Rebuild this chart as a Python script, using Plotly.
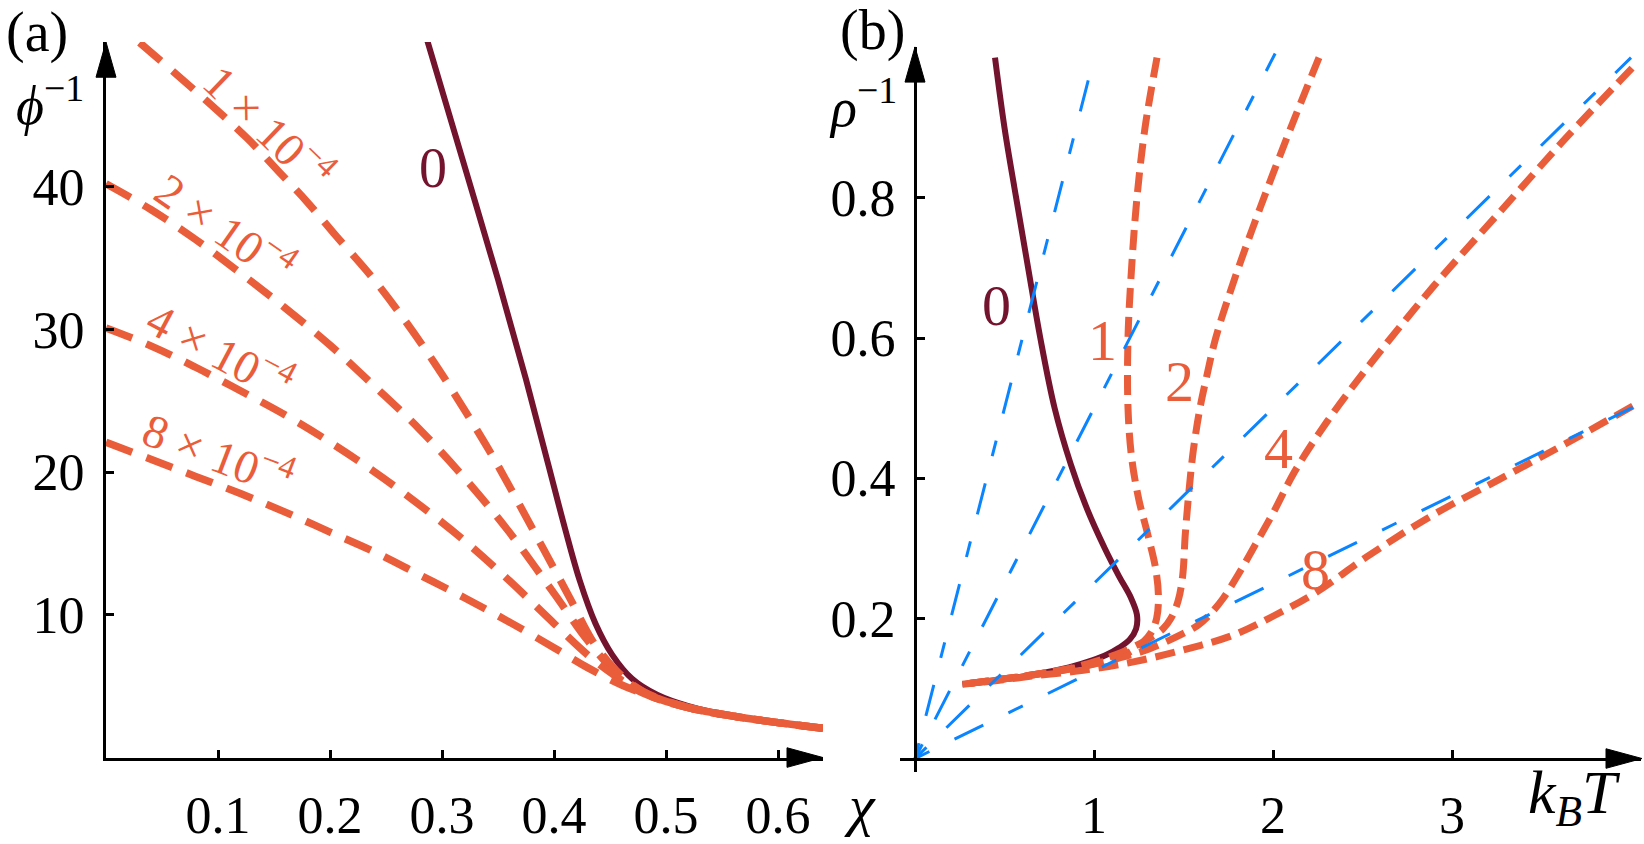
import plotly.graph_objects as go

# ---------------- data: panel (a)  chi vs 1/phi ----------------
a_labels = ["1 × 10<sup>−4</sup>", "2 × 10<sup>−4</sup>", "4 × 10<sup>−4</sup>", "8 × 10<sup>−4</sup>"]

a0_chi = [0.287, 0.318, 0.350, 0.375, 0.395, 0.410, 0.423, 0.437, 0.452, 0.470, 0.492, 0.520, 0.560, 0.600, 0.640]
a0_phi = [50.2, 42.0, 33.5, 26.5, 20.5, 16.0, 12.4, 9.4, 7.2, 5.5, 4.4, 3.6, 2.9, 2.45, 2.05]

a1_chi = [0.030, 0.090, 0.126, 0.155, 0.180, 0.206, 0.236, 0.2625, 0.292, 0.319, 0.346, 0.381, 0.414, 0.435, 0.452, 0.470, 0.490, 0.520, 0.560, 0.600, 0.640]
a1_phi = [50.1, 46.0, 43.4, 41.0, 38.9, 36.5, 33.8, 31.1, 27.8, 24.5, 21.0, 16.0, 11.2, 8.1, 6.4, 5.1, 4.2, 3.5, 2.9, 2.45, 2.05]

a2_chi = [0.000, 0.040, 0.080, 0.120, 0.160, 0.200, 0.240, 0.280, 0.320, 0.360, 0.400, 0.430, 0.455, 0.480, 0.520, 0.560, 0.600, 0.640]
a2_phi = [40.2, 38.4, 36.3, 33.95, 31.5, 28.9, 26.0, 23.0, 19.6, 15.8, 11.5, 8.2, 6.0, 4.6, 3.5, 2.9, 2.45, 2.05]

a3_chi = [0.000, 0.040, 0.080, 0.120, 0.160, 0.200, 0.240, 0.280, 0.320, 0.360, 0.400, 0.430, 0.455, 0.480, 0.520, 0.560, 0.600, 0.640]
a3_phi = [30.1, 28.85, 27.35, 25.7, 24.0, 22.1, 20.0, 17.7, 15.2, 12.4, 9.4, 7.2, 5.7, 4.5, 3.5, 2.9, 2.45, 2.05]

a4_chi = [0.000, 0.040, 0.080, 0.120, 0.160, 0.200, 0.240, 0.280, 0.320, 0.360, 0.400, 0.430, 0.460, 0.490, 0.520, 0.560, 0.600, 0.640]
a4_phi = [22.1, 20.9, 19.7, 18.5, 17.2, 15.8, 14.4, 12.8, 11.2, 9.5, 7.7, 6.3, 5.1, 4.2, 3.5, 2.9, 2.45, 2.05]

a_x_ticks = [0.1, 0.2, 0.3, 0.4, 0.5, 0.6]
a_y_ticks = [10, 20, 30, 40]

# ---------------- data: panel (b)  kBT vs 1/rho ----------------
b_labels = ["0", "1", "2", "4", "8"]

b0_r = [1.000, 0.900, 0.800, 0.700, 0.600, 0.500, 0.420, 0.360, 0.300, 0.260, 0.230, 0.205, 0.185, 0.170, 0.158, 0.148, 0.140, 0.130, 0.120, 0.113, 0.106]
b0_T = [0.447, 0.500, 0.565, 0.632, 0.700, 0.780, 0.870, 0.955, 1.060, 1.140, 1.205, 1.240, 1.235, 1.200, 1.140, 1.070, 0.990, 0.860, 0.670, 0.490, 0.265]

b1_r = [1.000, 0.900, 0.800, 0.700, 0.600, 0.500, 0.430, 0.370, 0.320, 0.270, 0.230, 0.200, 0.180, 0.165, 0.152, 0.143, 0.135, 0.127, 0.120, 0.113, 0.106]
b1_T = [1.352, 1.285, 1.240, 1.210, 1.190, 1.190, 1.210, 1.250, 1.300, 1.345, 1.360, 1.350, 1.320, 1.270, 1.200, 1.120, 1.000, 0.850, 0.670, 0.480, 0.265]

b2_r = [1.000, 0.897, 0.785, 0.678, 0.600, 0.540, 0.500, 0.440, 0.380, 0.320, 0.260, 0.225, 0.200, 0.185, 0.170, 0.158, 0.148, 0.138, 0.128, 0.120, 0.113, 0.106]
b2_T = [2.257, 2.095, 1.927, 1.777, 1.680, 1.625, 1.592, 1.555, 1.530, 1.510, 1.495, 1.470, 1.430, 1.385, 1.300, 1.210, 1.120, 1.000, 0.850, 0.670, 0.480, 0.265]

b4_r = [0.985, 0.887, 0.780, 0.673, 0.557, 0.480, 0.409, 0.350, 0.300, 0.260, 0.228, 0.205, 0.190, 0.176, 0.163, 0.152, 0.142, 0.132, 0.121, 0.113, 0.106]
b4_T = [4.006, 3.642, 3.268, 2.894, 2.525, 2.300, 2.120, 2.000, 1.890, 1.800, 1.720, 1.645, 1.580, 1.480, 1.370, 1.260, 1.120, 0.950, 0.700, 0.480, 0.265]

b8_T = [4.010, 3.640, 3.270, 2.890, 2.525, 2.246, 2.000, 1.777, 1.500, 1.220, 0.940, 0.665, 0.480, 0.265]
b8_r = [0.503, 0.450, 0.399, 0.347, 0.288, 0.238, 0.203, 0.176, 0.155, 0.138, 0.126, 0.118, 0.112, 0.106]

# straight asymptotes through the origin (rho^-1 = kBT / n, n = 1, 2, 4, 8)
blue_T = [[0.0, 1.006], [0.0, 2.012], [0.0, 4.000], [0.0, 4.010]]
blue_r = [[0.0, 1.006], [0.0, 1.006], [0.0, 1.000], [0.0, 0.501]]

b_x_ticks = [1, 2, 3]
b_y_ticks = [0.2, 0.4, 0.6, 0.8]

# ---------------- style ----------------
W, H = 1644, 844
MAROON = "#74132D"
ORANGE = "#EA5D3A"
BLUE = "#0A85FF"
FONT = "Liberation Serif, DejaVu Serif, serif"

def px(X, Y):
    return X / W, 1 - Y / H

fig = go.Figure()

# panel (a)
fig.add_trace(go.Scatter(x=a0_chi, y=a0_phi, mode="lines", line=dict(color=MAROON, width=6, shape="spline"),
                         xaxis="x", yaxis="y"))
for cx, cy in [(a1_chi, a1_phi), (a2_chi, a2_phi), (a3_chi, a3_phi), (a4_chi, a4_phi)]:
    fig.add_trace(go.Scatter(x=cx, y=cy, mode="lines",
                             line=dict(color=ORANGE, width=7.5, dash="28px,15px", shape="spline"),
                             xaxis="x", yaxis="y"))

# panel (b)
fig.add_trace(go.Scatter(x=b0_T, y=b0_r, mode="lines", line=dict(color=MAROON, width=6, shape="spline"),
                         xaxis="x2", yaxis="y2"))
for cx, cy in [(b1_T, b1_r), (b2_T, b2_r), (b4_T, b4_r), (b8_T, b8_r)]:
    fig.add_trace(go.Scatter(x=cx, y=cy, mode="lines",
                             line=dict(color=ORANGE, width=7, dash="20px,9px", shape="spline"),
                             xaxis="x2", yaxis="y2"))
for cx, cy in zip(blue_T, blue_r):
    fig.add_trace(go.Scatter(x=cx, y=cy, mode="lines",
                             line=dict(color=BLUE, width=3, dash="16px,28px,32px,28px"),
                             xaxis="x2", yaxis="y2"))

tickfont = dict(family=FONT, size=52, color="black")
axis_common = dict(showgrid=False, zeroline=False, showline=True, linecolor="black", linewidth=3,
                   ticks="inside", ticklen=8, tickwidth=3, tickcolor="black", tickfont=tickfont)

# panel (a) geometry: chi=0 at x=106 px, 0.1 per 112 px; phi^-1=0 at y=775 px, 14.6 px per unit
xa0, xa1 = 106, 823
ya0, ya1 = 775, 43
# panel (b) geometry: T=0 at x=915 px, 179 px per unit; r=0 at y=776 px, 717 px per unit
xb0, xb1 = 900, 1641
yb0, yb1 = 790, 48

fig.update_layout(
    width=W, height=H, margin=dict(l=0, r=0, t=0, b=0),
    paper_bgcolor="white", plot_bgcolor="white", showlegend=False,
    font=dict(family=FONT, color="black"),
    xaxis=dict(domain=[xa0 / W, xa1 / W], range=[0, (xa1 - xa0) / 1120], anchor="y",
               tickvals=a_x_ticks, ticktext=[f"{v:.1f}" for v in a_x_ticks], ticklabelstandoff=10, **axis_common),
    yaxis=dict(domain=[1 - ya0 / H, 1 - ya1 / H], range=[0, (ya0 - ya1) / 14.6], anchor="x",
               tickvals=a_y_ticks, ticklabelstandoff=8, **axis_common),
    xaxis2=dict(domain=[xb0 / W, xb1 / W], range=[-(915 - xb0) / 179, (xb1 - 915) / 179], anchor="free",
                position=1 - 776 / H, tickvals=b_x_ticks, ticklabelstandoff=10, **axis_common),
    yaxis2=dict(domain=[1 - yb0 / H, 1 - yb1 / H], range=[-(yb0 - 776) / 717, (776 - yb1) / 717], anchor="free",
                position=915 / W, tickvals=b_y_ticks, ticktext=[f"{v:.1f}" for v in b_y_ticks],
                ticklabelstandoff=8, **axis_common),
)

# arrowheads at the ends of the axes
def arrow(tip, direction, length=36, half=10):
    X, Y = tip
    if direction == "up":
        pts = [(X, Y), (X - half, Y + length), (X + half, Y + length)]
    else:
        pts = [(X, Y), (X - length, Y - half), (X - length, Y + half)]
    path = "M " + " L ".join(f"{px(a, b)[0]},{px(a, b)[1]}" for a, b in pts) + " Z"
    fig.add_shape(type="path", path=path, xref="paper", yref="paper",
                  fillcolor="black", line=dict(color="black", width=1))

arrow((106, 43), "up")
arrow((823, 775), "right")
arrow((915, 48), "up")
arrow((1642, 776), "right")

# curve labels, panel (a)
a_label_pos = [(0.146, 44.3, 44), (0.107, 37.2, 35), (0.103, 28.6, 28), (0.101, 21.4, 21)]
for txt, (lx, ly, ang) in zip(a_labels, a_label_pos):
    fig.add_annotation(x=lx, y=ly, xref="x", yref="y", text=txt, showarrow=False, textangle=ang,
                       xanchor="center", yanchor="middle",
                       font=dict(family=FONT, size=47, color=ORANGE))
fig.add_annotation(x=0.292, y=41.3, xref="x", yref="y", text="0", showarrow=False,
                   xanchor="center", yanchor="middle",
                   font=dict(family=FONT, size=56, color=MAROON))

# curve labels, panel (b)
b_label_pos = [(0.458, 0.647), (1.045, 0.597), (1.48, 0.538), (2.03, 0.443), (2.24, 0.27)]
for txt, (lx, ly) in zip(b_labels, b_label_pos):
    fig.add_annotation(x=lx, y=ly, xref="x2", yref="y2", text=txt, showarrow=False,
                       xanchor="center", yanchor="middle",
                       font=dict(family=FONT, size=58, color=MAROON if txt == "0" else ORANGE))

# panel tags and axis titles
titles = [
    ("(a)", 37, 33, 56), ("<i>ϕ</i><sup>−1</sup>", 50, 104, 54), ("<i>χ</i>", 860, 824, 58),
    ("(b)", 872, 31, 56), ("<i>ρ</i><sup>−1</sup>", 863, 106, 54),
    ("<i>k</i><sub><i>B</i></sub><i>T</i>", 1574, 815, 62),
]
for txt, X, Y, s in titles:
    xp, yp = px(X, Y)
    fig.add_annotation(x=xp, y=yp, xref="paper", yref="paper", text=txt, showarrow=False,
                       xanchor="center", yanchor="middle",
                       font=dict(family=FONT, size=s, color="black"))

fig.write_html("out.html")
